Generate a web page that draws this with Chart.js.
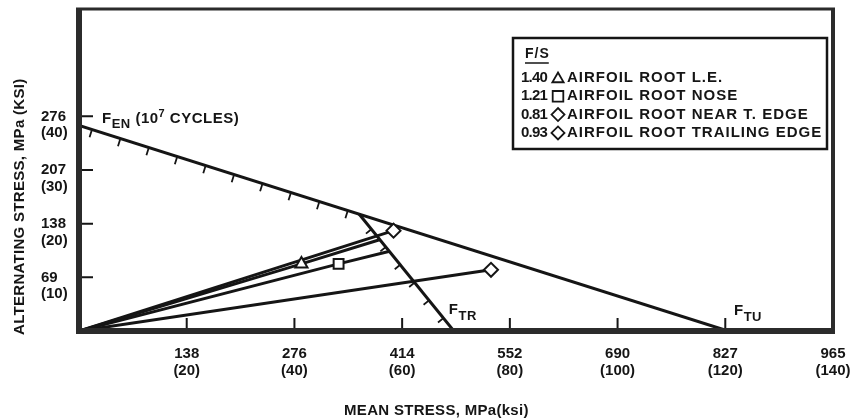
<!DOCTYPE html>
<html>
<head>
<meta charset="utf-8">
<script src="https://cdn.jsdelivr.net/npm/chart.js@4.4.1/dist/chart.umd.min.js"></script>
<style>
  html, body { margin: 0; padding: 0; background: #fff; }
  #wrap { width: 852px; height: 420px; }
</style>
</head>
<body>
<div id="wrap"><canvas id="chart"></canvas></div>
<script>
// Goodman diagram: alternating vs mean stress. Values kept in ksi, MPa shown on the tick labels.

const xTicksKsi = [20, 40, 60, 80, 100, 120, 140];
const xTicksMpa = ['138', '276', '414', '552', '690', '827', '965'];
const yTicksKsi = [10, 20, 30, 40];
const yTicksMpa = ['69', '138', '207', '276'];

// failure lines
const fenX = [0, 120.5];  const fenY = [38.3, 0];   // F_EN (10^7 cycles) down to F_TU
const ftrX = [52, 69.6];  const ftrY = [21.8, 0];   // F_TR

// load lines from the origin: origin, operating point, (end on F_TR)
const leX = [0, 41.3, 55.8];    const leY = [0, 12.5, 17.0];
const noseX = [0, 48.2, 57.5];  const noseY = [0, 12.5, 14.8];
const nearTeX = [0, 76.5];      const nearTeY = [0, 11.4];
const trailX = [0, 58.4];       const trailY = [0, 18.7];

const fsValues = ['1.40', '1.21', '0.81', '0.93'];
const fsNames = ['AIRFOIL ROOT L.E.', 'AIRFOIL ROOT NOSE', 'AIRFOIL ROOT NEAR T. EDGE', 'AIRFOIL ROOT TRAILING EDGE'];
const fsMarks = ['triangle', 'rect', 'rectRot', 'rectRot'];

const INK = '#151515';
const FONT = '"Liberation Sans", Arial, Helvetica, sans-serif';

function pts(xs, ys){ return xs.map((v, i) => ({ x: v, y: ys[i] })); }

function loadLine(xs, ys, mark){
  return {
    data: pts(xs, ys), showLine: true, borderColor: INK, borderWidth: 3,
    pointStyle: mark, pointRadius: xs.map((_, i) => i === 1 ? 7 : 0), pointHoverRadius: 0,
    pointBackgroundColor: '#fff', pointBorderColor: INK, pointBorderWidth: 2
  };
}
function failLine(xs, ys){
  return { data: pts(xs, ys), showLine: true, borderColor: INK, borderWidth: 3, pointRadius: 0 };
}

function symbol(ctx, style, x, y, r){
  ctx.beginPath();
  if (style === 'triangle'){
    ctx.moveTo(x, y - r); ctx.lineTo(x + r * 0.866, y + r / 2); ctx.lineTo(x - r * 0.866, y + r / 2);
  } else if (style === 'rect'){
    const s = r * Math.SQRT1_2; ctx.rect(x - s, y - s, 2 * s, 2 * s);
  } else {
    ctx.moveTo(x - r, y); ctx.lineTo(x, y - r); ctx.lineTo(x + r, y); ctx.lineTo(x, y + r);
  }
  ctx.closePath(); ctx.fill(); ctx.stroke();
}

// hatch marks on the inside of a failure line
function hatch(ctx, xs, ys, sx, sy, t0, step, n, len){
  const p0 = { x: sx.getPixelForValue(xs[0]), y: sy.getPixelForValue(ys[0]) };
  const p1 = { x: sx.getPixelForValue(xs[1]), y: sy.getPixelForValue(ys[1]) };
  const L = Math.hypot(p1.x - p0.x, p1.y - p0.y);
  const d = { x: (p1.x - p0.x) / L, y: (p1.y - p0.y) / L };
  const nx = -d.y, ny = d.x;
  ctx.beginPath();
  for (let i = 0; i < n; i++){
    const t = t0 + i * step;
    const px = p0.x + (p1.x - p0.x) * t, py = p0.y + (p1.y - p0.y) * t;
    ctx.moveTo(px, py); ctx.lineTo(px + nx * len, py + ny * len);
  }
  ctx.stroke();
}

// text with a lowered / raised part, e.g. F_EN, 10^7
function runs(ctx, x, y, parts){
  parts.forEach(p => {
    ctx.font = 'bold ' + p.size + 'px ' + FONT;
    ctx.fillText(p.t, x, y + (p.dy || 0));
    x += ctx.measureText(p.t).width;
  });
}

const decor = {
  id: 'decor',
  afterDatasetsDraw(chart){
    const { ctx, chartArea: a, scales: { x: sx, y: sy } } = chart;
    ctx.save();
    ctx.strokeStyle = INK; ctx.fillStyle = INK; ctx.lineCap = 'butt';

    ctx.lineWidth = 1.8;
    hatch(ctx, fenX, fenY, sx, sy, 0.02, 0.0438, 10, 8);
    hatch(ctx, ftrX, ftrY, sx, sy, 0.13, 0.152, 6, 7);

    // inward tick marks
    ctx.lineWidth = 2;
    ctx.beginPath();
    xTicksKsi.slice(0, -1).forEach(v => { const px = sx.getPixelForValue(v); ctx.moveTo(px, a.bottom); ctx.lineTo(px, a.bottom - 13); });
    yTicksKsi.forEach(v => { const py = sy.getPixelForValue(v); ctx.moveTo(a.left, py); ctx.lineTo(a.left + 14, py); });
    ctx.stroke();

    // frame
    ctx.strokeStyle = '#2b2b2b';
    ctx.lineWidth = 3; ctx.beginPath(); ctx.moveTo(a.left - 3, a.top); ctx.lineTo(a.right + 2, a.top); ctx.stroke();
    ctx.lineWidth = 4; ctx.beginPath(); ctx.moveTo(a.right, a.top); ctx.lineTo(a.right, a.bottom + 3); ctx.stroke();
    ctx.lineWidth = 6; ctx.beginPath(); ctx.moveTo(a.left, a.top - 1); ctx.lineTo(a.left, a.bottom + 3);
    ctx.moveTo(a.left - 3, a.bottom); ctx.lineTo(a.right + 2, a.bottom); ctx.stroke();

    // line labels
    ctx.textBaseline = 'alphabetic'; ctx.textAlign = 'left';
    ctx.letterSpacing = '0.5px';
    const fx = sx.getPixelForValue(fenX[0]), fy = sy.getPixelForValue(fenY[0]);
    runs(ctx, fx + 23, fy - 2.5, [
      { t: 'F', size: 15 }, { t: 'EN', size: 13, dy: 5 }, { t: ' (10', size: 15 },
      { t: '7', size: 11, dy: -6 }, { t: ' CYCLES)', size: 15 }
    ]);
    const tx = sx.getPixelForValue(ftrX[1]), ty = sy.getPixelForValue(ftrY[1]);
    runs(ctx, tx - 5, ty - 17, [{ t: 'F', size: 15 }, { t: 'TR', size: 13, dy: 6 }]);
    const ux = sx.getPixelForValue(fenX[1]), uy = sy.getPixelForValue(fenY[1]);
    runs(ctx, ux + 6, uy - 16, [{ t: 'F', size: 15 }, { t: 'TU', size: 13, dy: 6 }]);

    // legend box
    const L = a.right - 320, T = a.top + 29, R = a.right - 6, B = a.top + 140;
    ctx.strokeStyle = INK; ctx.lineWidth = 2.5;
    ctx.fillStyle = '#fff'; ctx.fillRect(L, T, R - L, B - T);
    ctx.strokeRect(L, T, R - L, B - T);
    ctx.fillStyle = INK; ctx.textBaseline = 'middle';
    ctx.letterSpacing = '1px';
    ctx.font = 'bold 14px ' + FONT;
    ctx.fillText('F/S', L + 12, T + 16);
    const w = ctx.measureText('F/S').width;
    ctx.lineWidth = 1.5; ctx.beginPath(); ctx.moveTo(L + 12, T + 25); ctx.lineTo(L + 11 + w, T + 25); ctx.stroke();
    fsValues.forEach((v, i) => {
      const ry = T + 40 + i * 18.3;
      ctx.letterSpacing = '-0.8px';
      ctx.font = 'bold 15px ' + FONT;
      ctx.fillText(v, L + 8, ry);
      ctx.fillStyle = '#fff'; ctx.lineWidth = 1.8;
      symbol(ctx, fsMarks[i], L + 45, ry + (fsMarks[i] === 'triangle' ? 1 : 0), fsMarks[i] === 'rect' ? 7.5 : 6.5);
      ctx.fillStyle = INK;
      ctx.letterSpacing = '1px';
      ctx.font = 'bold 15px ' + FONT;
      ctx.fillText(fsNames[i], L + 54, ry);
    });

    // axis titles
    ctx.letterSpacing = '0.3px';
    ctx.font = 'bold 15px ' + FONT;
    ctx.textAlign = 'center';
    ctx.fillText('MEAN STRESS, MPa(ksi)', a.left + 0.474 * (a.right - a.left), a.bottom + 80);
    ctx.translate(20, a.bottom + 4);
    ctx.rotate(-Math.PI / 2);
    ctx.textAlign = 'left';
    ctx.fillText('ALTERNATING STRESS, MPa (KSI)', 0, 0);
    ctx.restore();
  }
};

new Chart(document.getElementById('chart'), {
  type: 'scatter',
  data: {
    datasets: [
      loadLine(leX, leY, 'triangle'),
      loadLine(noseX, noseY, 'rect'),
      loadLine(nearTeX, nearTeY, 'rectRot'),
      loadLine(trailX, trailY, 'rectRot'),
      failLine(fenX, fenY),
      failLine(ftrX, ftrY)
    ]
  },
  options: {
    responsive: true, maintainAspectRatio: false, animation: false,
    layout: { padding: { left: 41, right: 19, top: 8, bottom: 0 } },
    plugins: { legend: { display: false }, tooltip: { enabled: false } },
    scales: {
      x: {
        type: 'linear', min: 0, max: 140,
        grid: { display: false }, border: { display: false },
        afterBuildTicks: s => { s.ticks = xTicksKsi.map(v => ({ value: v })); },
        afterFit: s => { s.height = 89; s.paddingLeft = 0; s.paddingRight = 0; },
        ticks: {
          autoSkip: false, maxRotation: 0, padding: 7, color: INK,
          font: { family: FONT, size: 15, weight: 'bold', lineHeight: 1.1 },
          callback: v => { const i = xTicksKsi.indexOf(v); return i < 0 ? '' : [xTicksMpa[i], '(' + v + ')']; }
        }
      },
      y: {
        type: 'linear', min: 0, max: 60,
        grid: { display: false }, border: { display: false },
        afterBuildTicks: s => { s.ticks = yTicksKsi.map(v => ({ value: v })); },
        afterFit: s => { s.width = 38; s.paddingTop = 0; s.paddingBottom = 0; },
        ticks: {
          autoSkip: false, crossAlign: 'far', labelOffset: 8.5, color: INK,
          font: { family: FONT, size: 15, weight: 'bold', lineHeight: 1.1 },
          callback: v => { const i = yTicksKsi.indexOf(v); return i < 0 ? '' : [yTicksMpa[i], '(' + v + ')']; }
        }
      }
    }
  },
  plugins: [decor]
});
</script>
</body>
</html>
